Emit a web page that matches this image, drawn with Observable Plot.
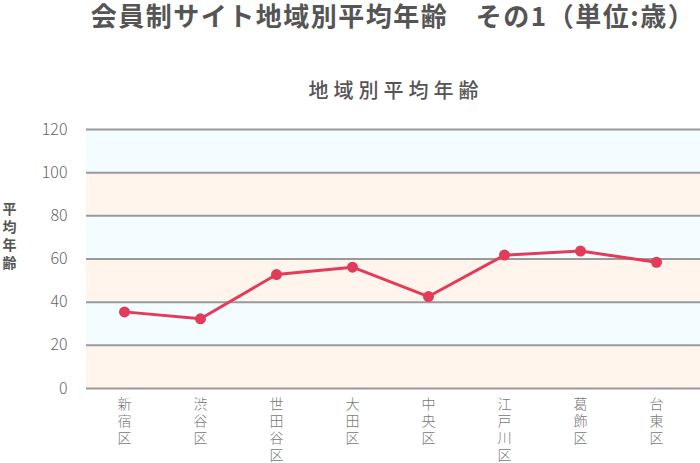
<!DOCTYPE html>
<html>
<head>
<meta charset="utf-8">
<script src="https://cdn.jsdelivr.net/npm/d3@7"></script>
<script src="https://cdn.jsdelivr.net/npm/@observablehq/plot@0.6"></script>
<style>
  html, body { margin: 0; padding: 0; background: #fff; }
  body { width: 700px; height: 463px; overflow: hidden; font-family: "Noto Sans CJK JP", "Noto Sans", sans-serif; }
  #header { position: relative; height: 110px; width: 700px; }
  #title { position: absolute; left: 0; top: 0; width: 700px; padding-left: 86px; box-sizing: border-box; text-align: center;
    font-size: 26px; font-weight: 700; line-height: 30px; color: #555; letter-spacing: 1.5px; white-space: nowrap; }
  #subtitle { position: absolute; left: 0; top: 76px; width: 700px; padding-left: 92px; box-sizing: border-box; text-align: center;
    font-size: 20px; font-weight: 500; line-height: 28px; color: #555; letter-spacing: 5px; white-space: nowrap; }
</style>
</head>
<body>
<div id="header">
  <div id="title">会員制サイト地域別平均年齢　その1（単位:歳）</div>
  <div id="subtitle">地域別平均年齢</div>
</div>
<div id="chart"></div>
<script>
const regions = ["新宿区", "渋谷区", "世田谷区", "大田区", "中央区", "江戸川区", "葛飾区", "台東区"];
const ages = [35.5, 32.3, 52.8, 56.2, 42.6, 61.8, 63.7, 58.5];
const yTicks = [0, 20, 40, 60, 80, 100, 120];
const yLabel = "平均年齢";

const data = regions.map((r, i) => ({region: r, age: ages[i]}));
const bands = yTicks.slice(0, -1).map((t, i) => ({y1: t, y2: yTicks[i + 1], i}));

const chart = Plot.plot({
  width: 700,
  height: 353,
  marginTop: 19,
  marginBottom: 75,
  marginLeft: 86,
  marginRight: 0,
  style: {fontFamily: '"Noto Sans CJK JP", "Noto Sans", sans-serif', background: "transparent"},
  x: {type: "point", domain: regions, padding: 0.5, insetLeft: -1, insetRight: 6},
  y: {domain: [0, 120]},
  marks: [
    Plot.rect(bands, {y1: "y1", y2: "y2", fill: d => d.i % 2 === 0 ? "#fff5ec" : "#f3fdff"}),
    Plot.ruleY(yTicks, {stroke: "#9a9a9a", strokeWidth: 2}),
    Plot.axisY({ticks: yTicks, tickSize: 0, tickPadding: 19, fontSize: 16, fill: "#666", fontWeight: 300, label: null}),
    Plot.axisX({tickSize: 0, tickPadding: 9, fontSize: 14, fill: "#777", fontWeight: 300, lineHeight: 1.2,
      tickFormat: d => [...d].join("\n"), label: null}),
    Plot.text([yLabel], {text: d => [...d].join("\n"), frameAnchor: "left", dx: -77, dy: -24, lineHeight: 1.28,
      fontSize: 14, fontWeight: 700, fill: "#555", textAnchor: "middle"}),
    Plot.line(data, {x: "region", y: "age", stroke: "#e23c5a", strokeWidth: 3}),
    Plot.dot(data, {x: "region", y: "age", r: 5.5, fill: "#e23c5a"})
  ]
});
document.getElementById("chart").appendChild(chart);
</script>
</body>
</html>
